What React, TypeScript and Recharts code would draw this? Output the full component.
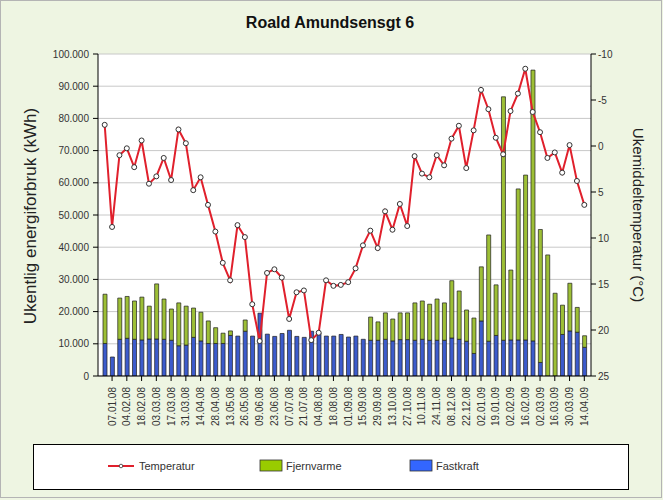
import React from 'react';
import { ComposedChart, Bar, Line, XAxis, YAxis, CartesianGrid } from 'recharts';

const weeks = [
  '31.12.07', '07.01.08', '21.01.08', '04.02.08', '11.02.08', '18.02.08', '25.02.08', '03.03.08',
  '10.03.08', '17.03.08', '24.03.08', '31.03.08', '07.04.08', '14.04.08', '21.04.08', '28.04.08',
  '05.05.08', '13.05.08', '19.05.08', '26.05.08', '02.06.08', '09.06.08', '16.06.08', '23.06.08',
  '30.06.08', '07.07.08', '14.07.08', '21.07.08', '28.07.08', '04.08.08', '11.08.08', '18.08.08',
  '25.08.08', '01.09.08', '08.09.08', '15.09.08', '22.09.08', '29.09.08', '06.10.08', '13.10.08',
  '20.10.08', '27.10.08', '03.11.08', '10.11.08', '17.11.08', '24.11.08', '01.12.08', '08.12.08',
  '15.12.08', '22.12.08', '27.12.08', '02.01.09', '12.01.09', '19.01.09', '26.01.09', '02.02.09',
  '09.02.09', '16.02.09', '23.02.09', '02.03.09', '09.03.09', '16.03.09', '23.03.09', '30.03.09',
  '06.04.09', '14.04.09',
];

const fastkraft = [
  10100, 5900, 11400, 11700, 11400, 11200, 11500, 11500, 11400, 11100, 9400, 9600, 12000, 10900, 10100, 10100,
  10100, 12600, 12400, 13900, 12400, 19500, 13000, 12300, 13200, 14200, 12300, 12000, 13900, 13400, 12400, 12400,
  12900, 12100, 12400, 11400, 11100, 11100, 11400, 10900, 11300, 11300, 11100, 11400, 11100, 11100, 11100, 11800,
  11400, 10800, 7000, 17100, 10800, 12600, 11100, 11200, 11200, 11200, 10900, 4200, 0, 0, 12900, 14000,
  13600, 8900,
];

const fjernvarme = [
  15300, 0, 12800, 13000, 11900, 13300, 10200, 17100, 12500, 9700, 13300, 12100, 9100, 8900, 7000, 4900,
  3200, 1400, 0, 3500, 0, 0, 0, 0, 0, 0, 0, 0, 0, 0, 0, 0,
  0, 0, 0, 0, 7200, 5700, 8200, 6800, 8300, 8300, 11600, 11900, 11200, 12800, 11600, 17800,
  15000, 9700, 11000, 16800, 33000, 15700, 75600, 21700, 46900, 51200, 84100, 41300, 37600, 25700, 9100, 14800,
  7700, 3600,
];

const temperatur = [
  -2.3, 8.8, 1.0, 0.25, 2.3, -0.6, 4.1, 3.3, 1.3, 3.7, -1.8, -0.3, 4.8, 3.4, 6.4, 9.3,
  12.7, 14.6, 8.6, 9.9, 17.2, 21.2, 13.8, 13.4, 14.3, 18.8, 15.9, 15.7, 21.1, 20.3, 14.6, 15.2,
  15.1, 14.8, 13.3, 10.8, 9.2, 11.1, 7.1, 9.1, 6.3, 8.7, 1.1, 3.0, 3.4, 1.0, 2.1, -0.8,
  -2.2, 2.4, -1.7, -6.1, -4.0, -0.9, 0.9, -3.8, -5.7, -8.4, -3.7, -1.5, 1.3, 0.7, 2.9, -0.1,
  3.8, 6.4,
];

const energyTicks = [0, 10000, 20000, 30000, 40000, 50000, 60000, 70000, 80000, 90000, 100000];
const tempTicks = [-10, -5, 0, 5, 10, 15, 20, 25];

const title = 'Roald Amundsensgt 6';
const leftTitle = 'Ukentlig energiforbruk (kWh)';
const rightTitle = 'Ukemiddeltemperatur (°C)';
const legendLabels = ['Temperatur', 'Fjernvarme', 'Fastkraft'];

const data = weeks.map((w, i) => ({
  week: w,
  fastkraft: fastkraft[i],
  fjernvarme: fjernvarme[i],
  temperatur: temperatur[i],
}));

const FONT = '"Liberation Sans", Arial, sans-serif';
const BG = '#eef5e2';
const GREEN = '#9dbf36';
const BLUE = '#3c5bcc';
const RED = '#e0202c';

const fmtThousands = (v: number) =>
  String(v).replace(/\B(?=(\d{3})+(?!\d))/g, '.');

const XTick = (props: any) => {
  const { x, y, payload } = props;
  const idx = payload && typeof payload.index === 'number' ? payload.index : props.index;
  if (idx % 2 === 0) return <g />;
  return (
    <g>
      <line x1={x} x2={x} y1={y - 7} y2={y - 2} stroke="#000" strokeWidth={1} />
      <text
        x={x}
        y={y + 4}
        transform={`rotate(-90, ${x}, ${y + 4})`}
        textAnchor="end"
        dy="0.35em"
        fontSize={10}
        fontFamily={FONT}
        fill="#333"
      >
        {payload.value}
      </text>
    </g>
  );
};

export default function App() {
  return (
    <div
      style={{
        position: 'absolute',
        left: 0,
        top: 0,
        width: 663,
        height: 500,
        background: BG,
        fontFamily: FONT,
      }}
    >
      <ComposedChart
        width={663}
        height={500}
        data={data}
        margin={{ top: 54, right: 0, bottom: 64, left: 0 }}
        barCategoryGap={0}
      >
        <CartesianGrid
          yAxisId="left"
          vertical={false}
          stroke="#c8c8c8"
          fill="#ffffff"
          fillOpacity={1}
        />
        <XAxis
          dataKey="week"
          interval={0}
          height={60}
          padding={{ left: 3, right: 3 }}
          tickLine={false}
          tickSize={5}
          tickMargin={2}
          axisLine={{ stroke: '#000' }}
          tick={<XTick />}
        />
        <YAxis
          yAxisId="left"
          width={98}
          domain={[0, 100000]}
          ticks={energyTicks}
          tickFormatter={fmtThousands}
          tickSize={5}
          tickMargin={4}
          axisLine={{ stroke: '#000' }}
          tickLine={{ stroke: '#000' }}
          tick={{ fontSize: 10, fill: '#333', fontFamily: FONT }}
          allowDataOverflow
        />
        <YAxis
          yAxisId="right"
          orientation="right"
          width={72}
          domain={[-10, 25]}
          ticks={tempTicks}
          reversed
          tickSize={5}
          tickMargin={2}
          axisLine={{ stroke: '#000' }}
          tickLine={{ stroke: '#000' }}
          tick={{ fontSize: 10, fill: '#333', fontFamily: FONT }}
          allowDataOverflow
        />
        <Bar
          yAxisId="left"
          dataKey="fastkraft"
          stackId="a"
          fill={BLUE}
          stroke="#1e1e1e"
          strokeWidth={0.7}
          barSize={4}
          isAnimationActive={false}
        />
        <Bar
          yAxisId="left"
          dataKey="fjernvarme"
          stackId="a"
          fill={GREEN}
          stroke="#1e1e1e"
          strokeWidth={0.7}
          barSize={4}
          isAnimationActive={false}
        />
        <Line
          yAxisId="right"
          dataKey="temperatur"
          type="linear"
          stroke={RED}
          strokeWidth={2}
          dot={{ r: 2.5, fill: '#fff', stroke: '#333', strokeWidth: 1 }}
          isAnimationActive={false}
        />
      </ComposedChart>

      <svg
        width={663}
        height={500}
        style={{ position: 'absolute', left: 0, top: 0, pointerEvents: 'none' }}
      >
        <rect x={0.5} y={0.5} width={661} height={497} fill="none" stroke="#b4b4b4" />
        <text x={330} y={28} textAnchor="middle" fontSize={16} fontWeight="bold" fontFamily={FONT} fill="#111">
          {title}
        </text>
        <text
          x={30}
          y={216}
          transform="rotate(-90, 30, 216)"
          textAnchor="middle"
          dy="0.35em"
          fontSize={17}
          fontFamily={FONT}
          fill="#222"
        >
          {leftTitle}
        </text>
        <text
          x={638}
          y={215}
          transform="rotate(90, 638, 215)"
          textAnchor="middle"
          dy="0.35em"
          fontSize={15}
          fontFamily={FONT}
          fill="#222"
        >
          {rightTitle}
        </text>
      </svg>

      <div
        style={{
          position: 'absolute',
          left: 33,
          top: 444,
          width: 594,
          height: 44,
          border: '1px solid #000',
          background: '#fff',
        }}
      >
        <svg width={594} height={44} style={{ position: 'absolute', left: 0, top: 0 }}>
          <line x1={74} x2={100} y1={21} y2={21} stroke={RED} strokeWidth={2} />
          <circle cx={87} cy={21} r={1.8} fill="#fff" stroke="#333" strokeWidth={0.8} />
          <text x={105} y={21} dy="0.35em" fontSize={11} fontFamily={FONT} fill="#333">
            {legendLabels[0]}
          </text>
          <rect x={226} y={15} width={22} height={11} fill="#99cc00" stroke="#333" strokeWidth={0.8} />
          <text x={252} y={21} dy="0.35em" fontSize={11} fontFamily={FONT} fill="#333">
            {legendLabels[1]}
          </text>
          <rect x={376} y={15} width={22} height={11} fill="#3366ff" stroke="#333" strokeWidth={0.8} />
          <text x={402} y={21} dy="0.35em" fontSize={11} fontFamily={FONT} fill="#333">
            {legendLabels[2]}
          </text>
        </svg>
      </div>
    </div>
  );
}
